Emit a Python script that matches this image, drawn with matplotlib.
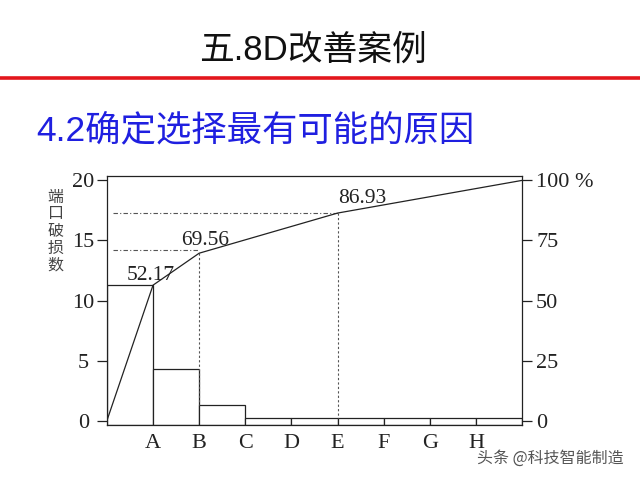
import matplotlib
matplotlib.use("Agg")
import matplotlib.pyplot as plt
from matplotlib.lines import Line2D

# data
categories = ["A", "B", "C", "D", "E", "F", "G", "H"]
counts = [11.3, 4.3, 1.3, 0.25, 0.25, 0.25, 0.25, 0.25, 0.25]
cum_x = [0, 1, 2, 5, 9]
cum_pct = [0, 56.4, 69.7, 86.4, 100]
cum_labels = ["", "52.17", "69.56", "86.93", ""]
left_ticks = [0, 5, 10, 15, 20]
right_ticks = [0, 25, 50, 75, 100]
right_labels = ["0", "25", "50", "75", "100 %"]

serif = "Liberation Serif"
cjk = ["Noto Sans CJK SC", "DejaVu Sans"]
ink = "#222222"

fig = plt.figure(figsize=(6.4, 4.8), dpi=100)
fig.patch.set_facecolor("white")

# slide header
fig.text(0.489, 0.895, "五.8D改善案例", ha="center", va="center",
         fontsize=25, family=["Liberation Sans", "Noto Sans CJK SC"],
         color="#111111")
fig.add_artist(Line2D([0, 1], [0.837, 0.837], transform=fig.transFigure,
                      color="#e3161c", lw=2.6))
fig.text(0.057, 0.728, "4.2确定选择最有可能的原因", ha="left", va="center",
         fontsize=25.5, family=["Liberation Sans", "Noto Sans CJK SC"],
         color="#1f1fe0")

ax = fig.add_axes([0.167, 0.114, 0.649, 0.519])
y_lo, y_hi = -0.38, 20.35
ax.set_xlim(0, len(counts))
ax.set_ylim(y_lo, y_hi)

ax.bar(range(len(counts)), [c - y_lo for c in counts], bottom=y_lo, width=1.0,
       align="edge", facecolor="white", edgecolor=ink, linewidth=0.9, zorder=2)

ax.set_xticks(range(1, len(categories) + 1))
ax.set_xticklabels(categories, family=serif, fontsize=16, color=ink)
ax.tick_params(axis="x", length=0, pad=6)

ax.set_yticks(left_ticks)
ax.set_yticklabels([str(t) for t in left_ticks], family=serif, fontsize=16,
                   color=ink, ha="center")
ax.tick_params(axis="y", direction="out", length=7, width=0.9, color=ink, pad=10)

for s in ax.spines.values():
    s.set_linewidth(0.9)
    s.set_color(ink)

ax.set_ylabel("端\n口\n破\n损\n数", rotation=0, family=cjk, fontsize=11.5,
              color="#444444", linespacing=1.0, va="center", ha="center")
ax.yaxis.set_label_coords(-0.123, 0.78)

ax2 = ax.twinx()
ax2.set_ylim(y_lo * 5, y_hi * 5)
ax2.set_yticks(right_ticks)
ax2.set_yticklabels(right_labels, family=serif, fontsize=16, color=ink)
ax2.tick_params(axis="y", direction="out", length=7, width=0.9, color=ink, pad=3)
for s in ax2.spines.values():
    s.set_visible(False)

# cumulative line
ax2.plot(cum_x, cum_pct, color=ink, lw=0.9, zorder=3)

# guide lines from the labelled points
for i in (2, 3):
    ax2.plot([0.13, cum_x[i]], [cum_pct[i] + (1.5 if i == 2 else 0)] * 2,
             color="#555555", lw=0.8, ls=(0, (4, 2, 1, 2)))
    ax2.plot([cum_x[i], cum_x[i]], [cum_pct[i], counts[cum_x[i]] * 5 if i == 2 else 1.25],
             color="#555555", lw=0.8, ls=(0, (2, 2)))

offsets = {1: (-0.05, 0.2, "center"), 2: (0.12, 1.5, "center"), 3: (0.02, 2.0, "left")}
for i, (dx, dy, ha) in offsets.items():
    ax2.text(cum_x[i] + dx, cum_pct[i] + dy, cum_labels[i], family=serif,
             fontsize=15.5, color=ink, ha=ha, va="bottom")

# watermark
fig.text(0.745, 0.045, "头条 @科技智能制造", family=cjk, fontsize=11.5,
         color="#555555", ha="left", va="center")

fig.savefig("out.png", dpi=100)
